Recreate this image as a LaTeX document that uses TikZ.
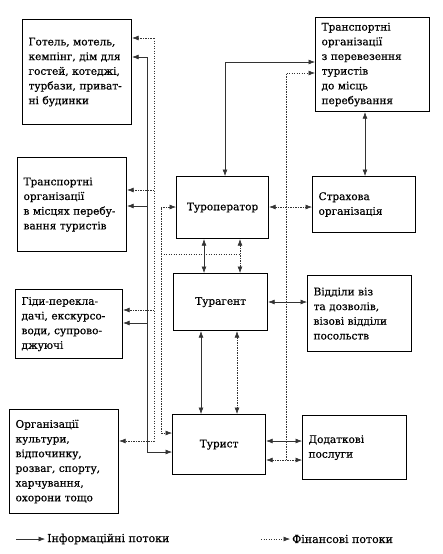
\documentclass[tikz,border=0pt]{standalone}
\usepackage{fontspec}
\setmainfont{DejaVu Serif}[FakeBold=0.5]
\usetikzlibrary{arrows.meta}
\tikzset{
  box/.style={draw=black, line width=1.2pt, anchor=north west, inner xsep=6pt, inner ysep=0pt,
    font=\fontsize{10.5}{14.7}\selectfont, align=left},
  cbox/.style={box, align=center},
  info/.style={draw=black!80, line width=0.6pt},
  fin/.style={draw=black!80, line width=0.6pt, dash pattern=on 1.4pt off 1.1pt},
  tip/.tip={Latex[length=6.5pt,width=5pt]},
  lbl/.style={anchor=west, inner sep=2pt, font=\fontsize{11}{12}\selectfont}
}
\newcommand{\mybox}[7]{% name, style, x1, y1, x2, y2, text
  \pgfmathsetmacro{\bw}{#5-#3}\pgfmathsetmacro{\bh}{#6-#4}%
  \pgfmathsetmacro{\tw}{#5-#3-12}%
  \node[#2, minimum width=\bw pt, minimum height=\bh pt, text width=\tw pt] (#1) at (#3,#4) {#7};}
\begin{document}
\begin{tikzpicture}[x=1pt,y=-1pt]
\useasboundingbox[fill=white] (0,0) rectangle (443,554);
% boxes
\mybox{hotel}{box}{22}{19}{131}{124}{Готель, мотель,\\кемпінг, дім для\\гостей, котеджі,\\турбази, приват-\\ні будинки}
\mybox{trtop}{box}{315}{17}{429}{111}{Транспортні\\організації\\з перевезення\\туристів\\до місць\\перебування}
\mybox{trloc}{box}{17}{157}{126}{251}{Транспортні\\організації\\в місцях перебу-\\вання туристів}
\mybox{tourop}{cbox}{176}{176}{268}{238}{Туроператор}
\mybox{insur}{box}{312}{176}{415}{232}{Страхова\\організація}
\mybox{agent}{cbox}{173}{273}{267}{330}{Турагент}
\mybox{visa}{box}{307}{275}{411}{351}{Відділи віз\\та дозволів,\\візові відділи\\посольств}
\mybox{guides}{box}{15}{289}{122}{358}{Гіди-перекла-\\дачі, екскурсо-\\води, супрово-\\джуючі}
\mybox{culture}{box}{9}{409}{118}{513}{Організації\\культури,\\відпочинку,\\розваг, спорту,\\харчування,\\охорони тощо}
\mybox{tourist}{cbox}{172}{414}{265}{474}{Турист}
\mybox{extra}{box}{302}{415}{406}{479}{Додаткові\\послуги}
% left column: solid line
\coordinate (s1t) at (147,57);
\coordinate (s1b) at (147,452);
\draw[info,-tip] (s1t) -- (hotel.east |- s1t);
\draw[info,-tip] (s1t) -- (s1b) -- (tourist.west |- s1b);
\draw[info,-tip] (s1t |- 0,206) -- (trloc.east |- 0,206);
\draw[info,-tip] (s1t |- 0,323) -- (guides.east |- 0,323);
% left column: dotted line 2
\coordinate (d2t) at (154,38);
\coordinate (d2b) at (154,441);
\draw[fin,-tip] (d2t) -- (hotel.east |- d2t);
\draw[fin,-tip] (d2t) -- (d2b) -- (culture.east |- d2b);
\draw[fin,-tip] (d2t |- 0,190) -- (trloc.east |- 0,190);
\draw[fin,-tip] (d2t |- 0,310) -- (guides.east |- 0,310);
% left column: dotted line 3
\coordinate (d3t) at (161,207);
\coordinate (d3b) at (161,433);
\coordinate (d3m) at (161,254);
\draw[fin,tip-tip] (tourop.west |- d3t) -- (d3t) -- (d3b) -- (tourist.west |- d3b);
\draw[fin] (d3m) -- (240,254);
% centre
\draw[info,tip-tip] (tourop.south -| 204,0) -- (agent.north -| 204,0);
\draw[fin,tip-tip] (tourop.south -| 240,0) -- (agent.north -| 240,0);
\draw[info,tip-tip] (agent.south -| 201,0) -- (tourist.north -| 201,0);
\draw[fin,tip-tip] (agent.south -| 237,0) -- (tourist.north -| 237,0);
% right side
\draw[info,tip-tip] (tourop.north -| 225,0) -- (225,62) -- (trtop.west |- 0,62);
\draw[fin,-tip] (286,460) -- (286,73) -- (trtop.west |- 0,73);
\draw[info,tip-tip] (trtop.south -| 365,0) -- (insur.north -| 365,0);
\draw[fin,tip-tip] (tourop.east |- 0,207) -- (insur.west |- 0,207);
\draw[info,tip-tip] (agent.east |- 0,302) -- (visa.west |- 0,302);
\draw[info,tip-tip] (tourist.east |- 0,441) -- (extra.west |- 0,441);
\draw[fin,tip-tip] (tourist.east |- 0,460) -- (extra.west |- 0,460);
% legend
\coordinate (la) at (16,539);
\node[lbl] (lt1) at (45,539) {Інформаційні потоки};
\draw[info,-tip] (la) -- (lt1.west);
\coordinate (lb) at (261,539);
\node[lbl] (lt2) at (290,539) {Фінансові потоки};
\draw[fin,-tip] (lb) -- (lt2.west);
\end{tikzpicture}
\end{document}
